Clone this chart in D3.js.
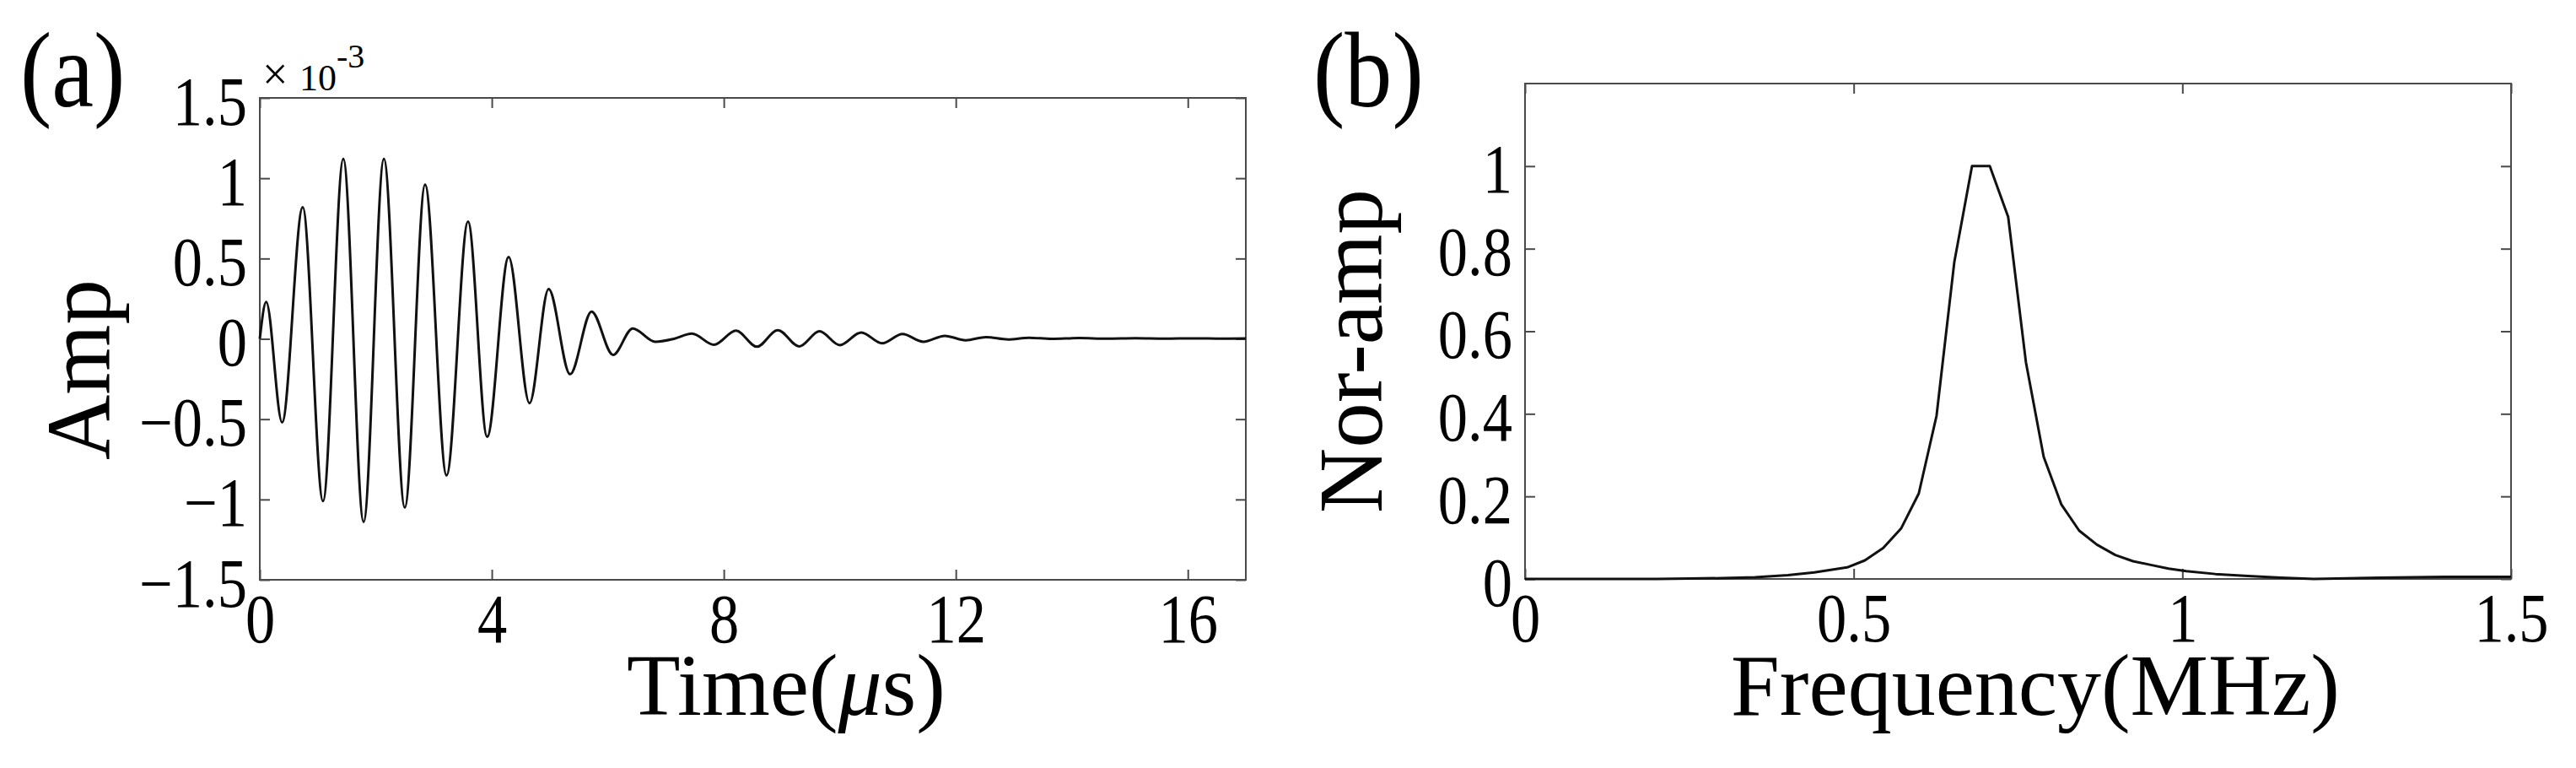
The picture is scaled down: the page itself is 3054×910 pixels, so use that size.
<!DOCTYPE html>
<html>
<head>
<meta charset="utf-8">
<script src="https://cdn.jsdelivr.net/npm/d3@7"></script>
<style>
body { margin: 0; background: #fff; }
</style>
</head>
<body>
<div id="chart"></div>
<script>
// set dimensions of the figure
var width = 3054;
var height = 910;
var tickLen = 12;
var tickFont = 82;
var titleFont = 104;
var panelFont = 126;
var squeeze = 0.86;   // tick labels are narrower than the titles
var serif = "'Liberation Serif'";

// (a) time signal, amplitude in units of 1e-3
var timeUs = [0, 0.11, 0.385, 0.74, 1.09, 1.44, 1.79, 2.14, 2.50, 2.85, 3.22, 3.59, 3.92, 4.29, 4.65,
  4.98, 5.35, 5.72, 6.09, 6.43, 6.82, 7.14, 7.45, 7.83, 8.21, 8.57, 8.93, 9.30, 9.65, 10.0,
  10.37, 10.73, 11.08, 11.44, 11.81, 12.17, 12.52, 12.9, 13.26, 13.65, 14.13, 14.6, 15.1, 15.6, 16.1, 16.6, 17];
var ampE3 = [0, 0.23, -0.52, 0.82, -1.01, 1.12, -1.14, 1.12, -1.05, 0.96, -0.85, 0.73, -0.61, 0.51, -0.40,
  0.31, -0.22, 0.17, -0.10, 0.065, -0.018, 0.0, 0.033, -0.037, 0.051, -0.049, 0.054, -0.047, 0.047, -0.039,
  0.040, -0.028, 0.030, -0.018, 0.019, -0.009, 0.011, -0.004, 0.007, 0.0, 0.005, 0.001, 0.004, 0.001, 0.003, 0.001, 0.002];
var timeTicks = [0, 4, 8, 12, 16];
var ampTicks = [-1.5, -1, -0.5, 0, 0.5, 1, 1.5];

// (b) normalised spectrum
var freqMHz = [0, 0.1, 0.2, 0.25, 0.3, 0.35, 0.40, 0.44, 0.49, 0.517, 0.545, 0.572, 0.599, 0.626, 0.653,
  0.680, 0.707, 0.735, 0.762, 0.789, 0.816, 0.843, 0.870, 0.898, 0.925, 0.952, 0.979, 1.006, 1.05, 1.1,
  1.15, 1.2, 1.3, 1.4, 1.5];
var norAmp = [0, 0, 0, 0.001, 0.002, 0.004, 0.009, 0.016, 0.028, 0.045, 0.075, 0.122, 0.207, 0.395, 0.767,
  1.0, 1.0, 0.877, 0.525, 0.296, 0.18, 0.117, 0.083, 0.058, 0.043, 0.034, 0.025, 0.019, 0.012, 0.007,
  0.003, 0.0, 0.003, 0.005, 0.005];
var freqTicks = [0, 0.5, 1, 1.5];
var norTicks = [0, 0.2, 0.4, 0.6, 0.8, 1];

function fmt(d) {
  return String(d).replace('-', '\u2212');
}

var svg = d3.select('#chart')
  .append('svg')
  .attr('width', width)
  .attr('height', height)
  .style('background', '#fff');

function addText(size) {
  return svg.append('text')
    .style('font-family', serif)
    .attr('font-size', size)
    .attr('fill', '#000');
}

// draws frame, inward ticks on all four sides and tick labels
function drawAxes(x, y, xTicks, yTicks) {
  var xr = x.range(), yr = y.range();
  var g = svg.append('g').attr('color', '#4a4a4a');

  g.append('rect')
    .attr('x', xr[0])
    .attr('y', yr[1])
    .attr('width', xr[1] - xr[0])
    .attr('height', yr[0] - yr[1])
    .attr('fill', 'none')
    .attr('stroke', '#4a4a4a')
    .attr('stroke-width', 2);

  var bottom = g.append('g')
    .attr('transform', 'translate(0,' + yr[0] + ')')
    .call(d3.axisBottom(x).tickValues(xTicks).tickSizeInner(-tickLen).tickSizeOuter(0).tickFormat(fmt));
  var top = g.append('g')
    .attr('transform', 'translate(0,' + yr[1] + ')')
    .call(d3.axisTop(x).tickValues(xTicks).tickSizeInner(-tickLen).tickSizeOuter(0));
  var left = g.append('g')
    .attr('transform', 'translate(' + xr[0] + ',0)')
    .call(d3.axisLeft(y).tickValues(yTicks).tickSizeInner(-tickLen).tickSizeOuter(0).tickFormat(fmt));
  var right = g.append('g')
    .attr('transform', 'translate(' + xr[1] + ',0)')
    .call(d3.axisRight(y).tickValues(yTicks).tickSizeInner(-tickLen).tickSizeOuter(0));

  // mirror axes carry only tick marks
  top.selectAll('text').remove();
  right.selectAll('text').remove();

  [bottom, top, left, right].forEach(function(a) {
    a.select('.domain').remove();
    a.attr('font-family', null).attr('font-size', null);
    a.selectAll('line').attr('stroke-width', 2);
  });

  bottom.selectAll('text')
    .attr('y', 74)
    .attr('dy', null)
    .attr('fill', '#000')
    .attr('font-size', tickFont)
    .style('font-family', serif)
    .attr('transform', 'scale(' + squeeze + ',1)');

  left.selectAll('text')
    .attr('x', -15 / squeeze)
    .attr('dy', '0.38em')
    .attr('fill', '#000')
    .attr('font-size', tickFont)
    .style('font-family', serif)
    .attr('transform', 'scale(' + squeeze + ',1)');
}

function panelLabel(txt, x, y) {
  addText(panelFont)
    .attr('transform', 'translate(' + x + ',' + y + ') scale(0.89,1)')
    .text(txt);
}

// ---- panel (a)
var xa = d3.scaleLinear().domain([0, 17]).range([308, 1477]);
var ya = d3.scaleLinear().domain([-1.5, 1.5]).range([687, 116]);
drawAxes(xa, ya, timeTicks, ampTicks);

var lineA = d3.line()
  .x(function(d) { return xa(d[0]); })
  .y(function(d) { return ya(d[1]); })
  .curve(d3.curveMonotoneX);

svg.append('path')
  .datum(d3.zip(timeUs, ampE3))
  .attr('d', lineA)
  .attr('fill', 'none')
  .attr('stroke', '#111')
  .attr('stroke-width', 3)
  .attr('stroke-linejoin', 'round');

panelLabel('(a)', 24, 126);

// exponent marker above the y axis
addText(54).attr('x', 311).attr('y', 106).text('\u00d7');
addText(44).attr('x', 355).attr('y', 107).text('10');
addText(40).attr('x', 399).attr('y', 80).text('-3');

addText(titleFont)
  .attr('x', 932).attr('y', 847)
  .attr('text-anchor', 'middle')
  .html('Time(<tspan font-style="italic">\u03bc</tspan>s)');

addText(107)
  .attr('transform', 'translate(130,438) rotate(-90)')
  .attr('text-anchor', 'middle')
  .text('Amp');

// ---- panel (b)
var xb = d3.scaleLinear().domain([0, 1.5]).range([1808, 2977]);
var yb = d3.scaleLinear().domain([0, 1.2]).range([686, 99]);
drawAxes(xb, yb, freqTicks, norTicks);

var lineB = d3.line()
  .x(function(d) { return xb(d[0]); })
  .y(function(d) { return yb(d[1]); });

svg.append('path')
  .datum(d3.zip(freqMHz, norAmp))
  .attr('d', lineB)
  .attr('fill', 'none')
  .attr('stroke', '#111')
  .attr('stroke-width', 3)
  .attr('stroke-linejoin', 'round');

panelLabel('(b)', 1557, 126);

addText(titleFont)
  .attr('x', 2413).attr('y', 847)
  .attr('text-anchor', 'middle')
  .text('Frequency(MHz)');

addText(107)
  .attr('transform', 'translate(1638,416) rotate(-90)')
  .attr('text-anchor', 'middle')
  .text('Nor-amp');
</script>
</body>
</html>
